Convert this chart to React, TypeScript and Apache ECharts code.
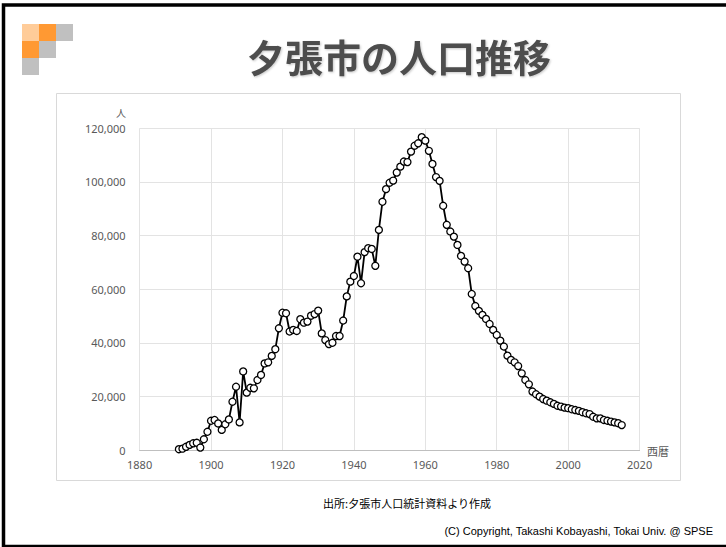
import React, { useEffect, useRef } from "react";
import * as echarts from "echarts";

const years = [
  1891, 1892, 1893, 1894, 1895, 1896, 1897, 1898, 1899, 1900,
  1901, 1902, 1903, 1904, 1905, 1906, 1907, 1908, 1909, 1910,
  1911, 1912, 1913, 1914, 1915, 1916, 1917, 1918, 1919, 1920,
  1921, 1922, 1923, 1924, 1925, 1926, 1927, 1928, 1929, 1930,
  1931, 1932, 1933, 1934, 1935, 1936, 1937, 1938, 1939, 1940,
  1941, 1942, 1943, 1944, 1945, 1946, 1947, 1948, 1949, 1950,
  1951, 1952, 1953, 1954, 1955, 1956, 1957, 1958, 1959, 1960,
  1961, 1962, 1963, 1964, 1965, 1966, 1967, 1968, 1969, 1970,
  1971, 1972, 1973, 1974, 1975, 1976, 1977, 1978, 1979, 1980,
  1981, 1982, 1983, 1984, 1985, 1986, 1987, 1988, 1989, 1990,
  1991, 1992, 1993, 1994, 1995, 1996, 1997, 1998, 1999, 2000,
  2001, 2002, 2003, 2004, 2005, 2006, 2007, 2008, 2009, 2010,
  2011, 2012, 2013, 2014, 2015,
];

const population = [
  300, 500, 1200, 1900, 2500, 2700, 900, 4000, 6800, 10900,
  11200, 9900, 7500, 9600, 11400, 18000, 23600, 10300, 29300, 21400,
  23200, 23000, 26100, 28000, 32300, 32700, 35100, 37600, 45400, 51200,
  51000, 44200, 44800, 44400, 48800, 47500, 47900, 50100, 50700, 52000,
  43500, 41000, 39500, 40000, 42500, 42500, 48300, 57300, 62800, 64900,
  72100, 62200, 73800, 75300, 75000, 68700, 82100, 92600, 97300, 99700,
  100500, 103500, 105700, 107600, 107400, 111300, 113500, 114400, 116700, 115400,
  111600, 106700, 101800, 100400, 91100, 84000, 81500, 79600, 76500, 72400,
  70300, 67800, 58200, 53700, 51900, 50400, 48900, 47000, 44800, 42900,
  40800, 38600, 35200, 33600, 32700, 31300, 28600, 26100, 24500, 21800,
  20800, 19900, 19000, 18400, 17800, 17200, 16500, 16200, 15800, 15600,
  15200, 14900, 14600, 14100, 13700, 13400, 12400, 11800, 11800, 11200,
  10900, 10600, 10300, 10000, 9300,
];

const titleText = "夕張市の人口推移";
const yUnit = "人";
const xUnit = "西暦";
const sourceText = "出所:夕張市人口統計資料より作成";
const copyrightText = "(C) Copyright, Takashi Kobayashi, Tokai Univ. @ SPSE";

export default function App() {
  const ref = useRef<HTMLDivElement>(null);

  useEffect(() => {
    if (!ref.current) return;
    const chart = echarts.init(ref.current, undefined, { renderer: "svg" });
    const labelFont = "'Noto Sans', 'Liberation Sans', sans-serif";
    const cjk = "'Noto Sans CJK JP', sans-serif";
    const sq = 17;
    chart.setOption({
      animation: false,
      backgroundColor: "#ffffff",
      grid: { left: 139.6, top: 128.3, width: 500, height: 321.7, containLabel: false },
      xAxis: {
        type: "value",
        min: 1880,
        max: 2020,
        interval: 20,
        axisLine: { show: true, lineStyle: { color: "#bfbfbf", width: 1 } },
        axisTick: { show: false },
        axisLabel: {
          color: "#595959",
          fontSize: 11,
          fontFamily: labelFont,
          margin: 9,
          formatter: (v: number) => String(v),
        },
        splitLine: { show: true, lineStyle: { color: "#e3e3e3", width: 1 } },
      },
      yAxis: {
        type: "value",
        min: 0,
        max: 120000,
        interval: 20000,
        axisLine: { show: false },
        axisTick: { show: false },
        axisLabel: {
          color: "#595959",
          fontSize: 11,
          fontFamily: labelFont,
          margin: 14,
          formatter: (v: number) => v.toLocaleString("en-US"),
        },
        splitLine: { show: true, lineStyle: { color: "#e3e3e3", width: 1 } },
      },
      series: [
        {
          type: "line",
          data: years.map((y, i) => [y, population[i]]),
          symbol: "circle",
          symbolSize: 7,
          showAllSymbol: true,
          lineStyle: { color: "#000000", width: 1.8 },
          itemStyle: { color: "#ffffff", borderColor: "#000000", borderWidth: 1.3 },
          z: 3,
        },
      ],
      graphic: [
        {
          type: "rect",
          shape: { x: 3.5, y: 5, width: 740, height: 541.5 },
          style: { fill: "none", stroke: "#000000", lineWidth: 3.5 },
          silent: true,
        },
        {
          type: "rect",
          shape: { x: 56.5, y: 93.5, width: 624, height: 387 },
          style: { fill: "none", stroke: "#d9d9d9", lineWidth: 1 },
          silent: true,
        },
        { type: "rect", shape: { x: 22, y: 24, width: sq, height: sq }, style: { fill: "#FFCC99" } },
        { type: "rect", shape: { x: 39, y: 24, width: sq, height: sq }, style: { fill: "#FF9933" } },
        { type: "rect", shape: { x: 56, y: 24, width: sq, height: sq }, style: { fill: "#C0C0C0" } },
        { type: "rect", shape: { x: 22, y: 41, width: sq, height: sq }, style: { fill: "#FF9933" } },
        { type: "rect", shape: { x: 39, y: 41, width: sq, height: sq }, style: { fill: "#C0C0C0" } },
        { type: "rect", shape: { x: 22, y: 58, width: sq, height: sq }, style: { fill: "#C0C0C0" } },
        {
          type: "text",
          x: 399,
          y: 55,
          style: {
            text: titleText,
            fill: "#4d4d4d",
            font: `bold 38px ${cjk}`,
            align: "center",
            verticalAlign: "middle",
            textShadowColor: "rgba(0,0,0,0.22)",
            textShadowBlur: 2,
            textShadowOffsetX: 1,
            textShadowOffsetY: 1,
          },
        },
        {
          type: "text",
          x: 126,
          y: 112,
          style: { text: yUnit, fill: "#595959", font: `10px ${cjk}`, align: "right", verticalAlign: "middle" },
        },
        {
          type: "text",
          x: 647,
          y: 451,
          style: { text: xUnit, fill: "#595959", font: `11px ${cjk}`, align: "left", verticalAlign: "middle" },
        },
        {
          type: "text",
          x: 407,
          y: 503,
          style: { text: sourceText, fill: "#000000", font: `11px ${cjk}`, align: "center", verticalAlign: "middle" },
        },
        {
          type: "text",
          x: 713,
          y: 531,
          style: {
            text: copyrightText,
            fill: "#000000",
            font: "11px 'Liberation Sans', Arial, sans-serif",
            align: "right",
            verticalAlign: "middle",
          },
        },
      ],
    });
    return () => chart.dispose();
  }, []);

  return (
    <div
      ref={ref}
      style={{ position: "fixed", left: 0, top: 0, width: 726, height: 547 }}
    />
  );
}
